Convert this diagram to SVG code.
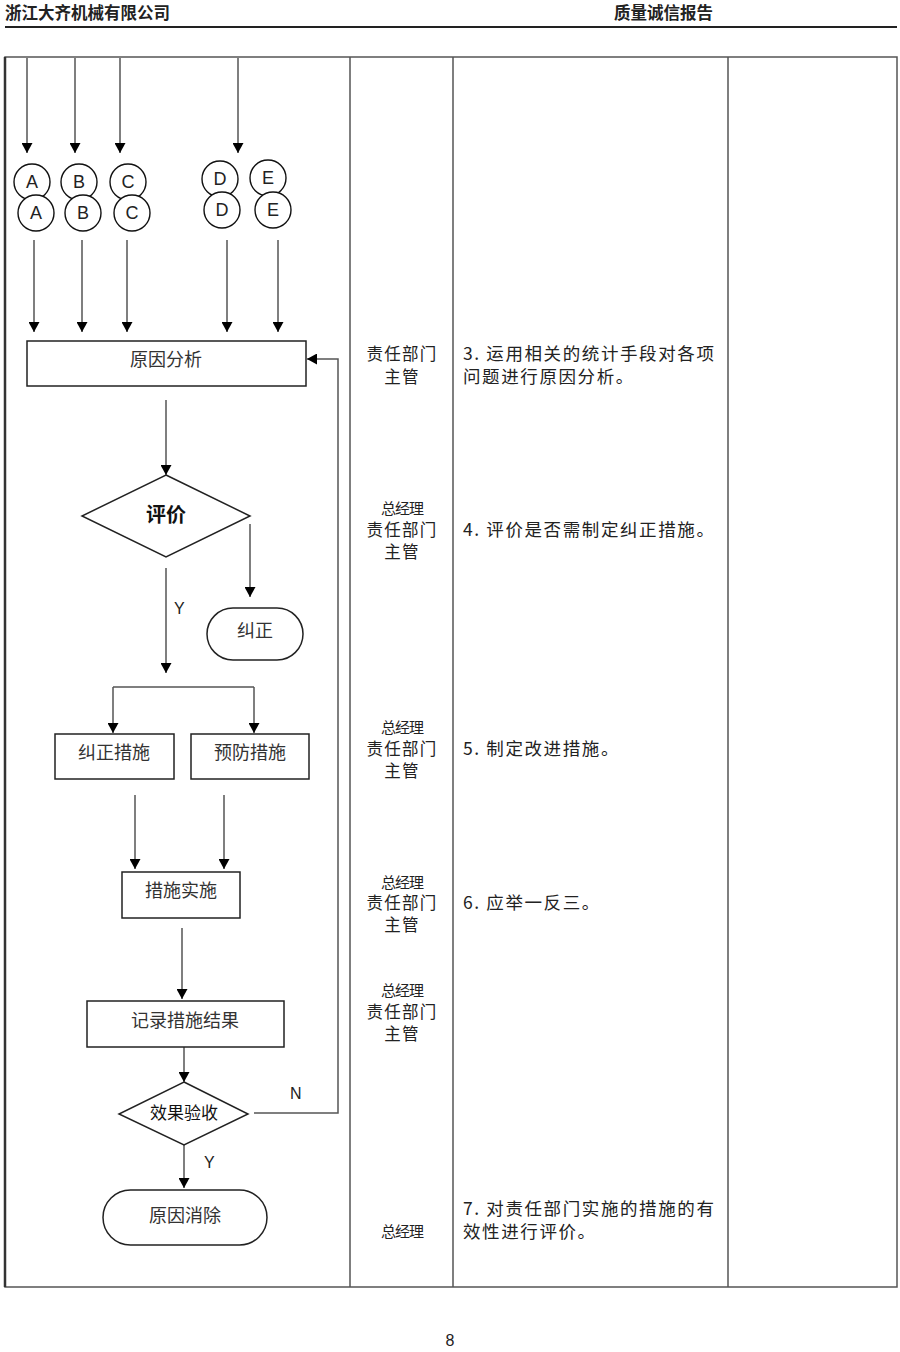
<svg xmlns="http://www.w3.org/2000/svg" width="900" height="1352" viewBox="0 0 900 1352">
<defs>
<marker id="ah" markerUnits="userSpaceOnUse" markerWidth="10" markerHeight="11" refX="10" refY="5.5" orient="auto">
<path d="M0,0 L10,5.5 L0,11 z" fill="#000"/>
</marker>
<style>
.hd{font-family:"Noto Sans CJK SC",sans-serif;font-size:16.5px;font-weight:bold;fill:#222}
.tb{stroke:#555;stroke-width:1.5;fill:none}
.cn{stroke:#555;stroke-width:1.5;fill:none;marker-end:url(#ah)}
.bx{fill:#fff;stroke:#222;stroke-width:1.5}
.ci{fill:#fff;stroke:#111;stroke-width:1.4}
.ct{font-family:"Liberation Sans",Arial,sans-serif;font-size:18px;fill:#222;text-anchor:middle}
.lb{font-family:"Noto Sans CJK SC",sans-serif;font-size:18px;fill:#333;text-anchor:middle}
.lbk{font-family:"Noto Sans CJK SC",sans-serif;font-size:17px;fill:#111;text-anchor:middle}
.yn{font-family:"Liberation Sans",Arial,sans-serif;font-size:16px;fill:#222}
.rs{font-family:"Noto Sans CJK SC",sans-serif;font-size:16.5px;letter-spacing:1.3px;fill:#222;text-anchor:middle}
.rg{font-family:"Noto Sans CJK SC",sans-serif;font-size:15px;fill:#222;text-anchor:middle;letter-spacing:-1px}
.ds{font-family:"Noto Sans CJK SC",sans-serif;font-size:17.5px;letter-spacing:1.6px;fill:#222}
</style>
</defs>
<rect width="900" height="1352" fill="#fff"/>
<g id="header">
<text class="hd" x="5" y="19">浙江大齐机械有限公司</text>
<text class="hd" x="614" y="19">质量诚信报告</text>
<line x1="5" y1="27" x2="897" y2="27" stroke="#222" stroke-width="2"/>
</g>
<g id="table">
<rect class="tb" x="5" y="57" width="892" height="1230"/>
<line x1="5" y1="57" x2="5" y2="1287" stroke="#333" stroke-width="2.5"/>
<line class="tb" x1="350" y1="57" x2="350" y2="1287"/>
<line class="tb" x1="453" y1="57" x2="453" y2="1287"/>
<line class="tb" x1="728" y1="57" x2="728" y2="1287"/>
</g>
<g id="connectors">
<line class="cn" x1="27" y1="58" x2="27" y2="153"/>
<line class="cn" x1="75" y1="58" x2="75" y2="153"/>
<line class="cn" x1="120" y1="58" x2="120" y2="153"/>
<line class="cn" x1="238" y1="58" x2="238" y2="153"/>
<line class="cn" x1="34" y1="240" x2="34" y2="332"/>
<line class="cn" x1="82" y1="240" x2="82" y2="332"/>
<line class="cn" x1="127" y1="240" x2="127" y2="332"/>
<line class="cn" x1="227" y1="240" x2="227" y2="332"/>
<line class="cn" x1="278" y1="240" x2="278" y2="332"/>
<line class="cn" x1="166" y1="400" x2="166" y2="475"/>
<line class="cn" x1="250" y1="524" x2="250" y2="597"/>
<line class="cn" x1="166" y1="568" x2="166" y2="673"/>
<polyline class="tb" points="113,687 254,687"/>
<line class="cn" x1="113" y1="687" x2="113" y2="733"/>
<line class="cn" x1="254" y1="687" x2="254" y2="733"/>
<line class="cn" x1="135" y1="795" x2="135" y2="869"/>
<line class="cn" x1="224" y1="795" x2="224" y2="869"/>
<line class="cn" x1="182" y1="928" x2="182" y2="999"/>
<line class="cn" x1="184" y1="1047" x2="184" y2="1082"/>
<line class="cn" x1="184" y1="1145" x2="184" y2="1188"/>
<polyline class="cn" points="254,1113 338,1113 338,359 307,359"/>
<text class="yn" x="174" y="614">Y</text>
<text class="yn" x="204" y="1168">Y</text>
<text class="yn" x="290" y="1099">N</text>
</g>
<g id="conn-A">
<circle class="ci" cx="32" cy="182" r="18"/><text class="ct" x="32" y="188">A</text>
<circle class="ci" cx="36" cy="213" r="18"/><text class="ct" x="36" y="219">A</text>
</g>
<g id="conn-B">
<circle class="ci" cx="79" cy="182" r="18"/><text class="ct" x="79" y="188">B</text>
<circle class="ci" cx="83" cy="213" r="18"/><text class="ct" x="83" y="219">B</text>
</g>
<g id="conn-C">
<circle class="ci" cx="128" cy="182" r="18"/><text class="ct" x="128" y="188">C</text>
<circle class="ci" cx="132" cy="213" r="18"/><text class="ct" x="132" y="219">C</text>
</g>
<g id="conn-D">
<circle class="ci" cx="220" cy="179" r="18"/><text class="ct" x="220" y="185">D</text>
<circle class="ci" cx="222" cy="210" r="18"/><text class="ct" x="222" y="216">D</text>
</g>
<g id="conn-E">
<circle class="ci" cx="268" cy="178" r="18"/><text class="ct" x="268" y="184">E</text>
<circle class="ci" cx="273" cy="210" r="18"/><text class="ct" x="273" y="216">E</text>
</g>
<g id="n-analysis">
<rect class="bx" x="27" y="341" width="279" height="45"/>
<text class="lb" x="166" y="366">原因分析</text>
</g>
<g id="n-evaluate">
<polygon class="bx" points="166,475 250,516 166,557 82,516"/>
<text class="lbk" x="166" y="522" style="font-size:20px;font-weight:bold">评价</text>
</g>
<g id="n-correct">
<rect class="bx" x="207" y="608" width="96" height="52" rx="26"/>
<text class="lb" x="255" y="637">纠正</text>
</g>
<g id="n-corrective">
<rect class="bx" x="55" y="734" width="119" height="45"/>
<text class="lb" x="114" y="759">纠正措施</text>
</g>
<g id="n-preventive">
<rect class="bx" x="191" y="734" width="118" height="45"/>
<text class="lb" x="250" y="759">预防措施</text>
</g>
<g id="n-implement">
<rect class="bx" x="122" y="872" width="118" height="46"/>
<text class="lb" x="181" y="897">措施实施</text>
</g>
<g id="n-record">
<rect class="bx" x="87" y="1001" width="197" height="46"/>
<text class="lb" x="185" y="1027">记录措施结果</text>
</g>
<g id="n-verify">
<polygon class="bx" points="184,1082 248,1114 184,1145 119,1114"/>
<text class="lbk" x="184" y="1119">效果验收</text>
</g>
<g id="n-eliminated">
<rect class="bx" x="103" y="1190" width="164" height="55" rx="27.5"/>
<text class="lb" x="185" y="1222">原因消除</text>
</g>
<g id="resp">
<text class="rs" x="402" y="360">责任部门</text>
<text class="rs" x="402" y="383">主管</text>
<text class="rg" x="402" y="514">总经理</text>
<text class="rs" x="402" y="536">责任部门</text>
<text class="rs" x="402" y="558">主管</text>
<text class="rg" x="402" y="733">总经理</text>
<text class="rs" x="402" y="755">责任部门</text>
<text class="rs" x="402" y="777">主管</text>
<text class="rg" x="402" y="888">总经理</text>
<text class="rs" x="402" y="909">责任部门</text>
<text class="rs" x="402" y="931">主管</text>
<text class="rg" x="402" y="996">总经理</text>
<text class="rs" x="402" y="1018">责任部门</text>
<text class="rs" x="402" y="1040">主管</text>
<text class="rg" x="402" y="1237">总经理</text>
</g>
<g id="desc">
<text class="ds" x="463" y="360">3. 运用相关的统计手段对各项</text>
<text class="ds" x="463" y="383">问题进行原因分析。</text>
<text class="ds" x="463" y="536">4. 评价是否需制定纠正措施。</text>
<text class="ds" x="463" y="755">5. 制定改进措施。</text>
<text class="ds" x="463" y="909">6. 应举一反三。</text>
<text class="ds" x="463" y="1215">7. 对责任部门实施的措施的有</text>
<text class="ds" x="463" y="1238">效性进行评价。</text>
</g>
<text x="450" y="1346" font-family="Liberation Sans, Arial, sans-serif" font-size="16" fill="#222" text-anchor="middle">8</text>
</svg>
